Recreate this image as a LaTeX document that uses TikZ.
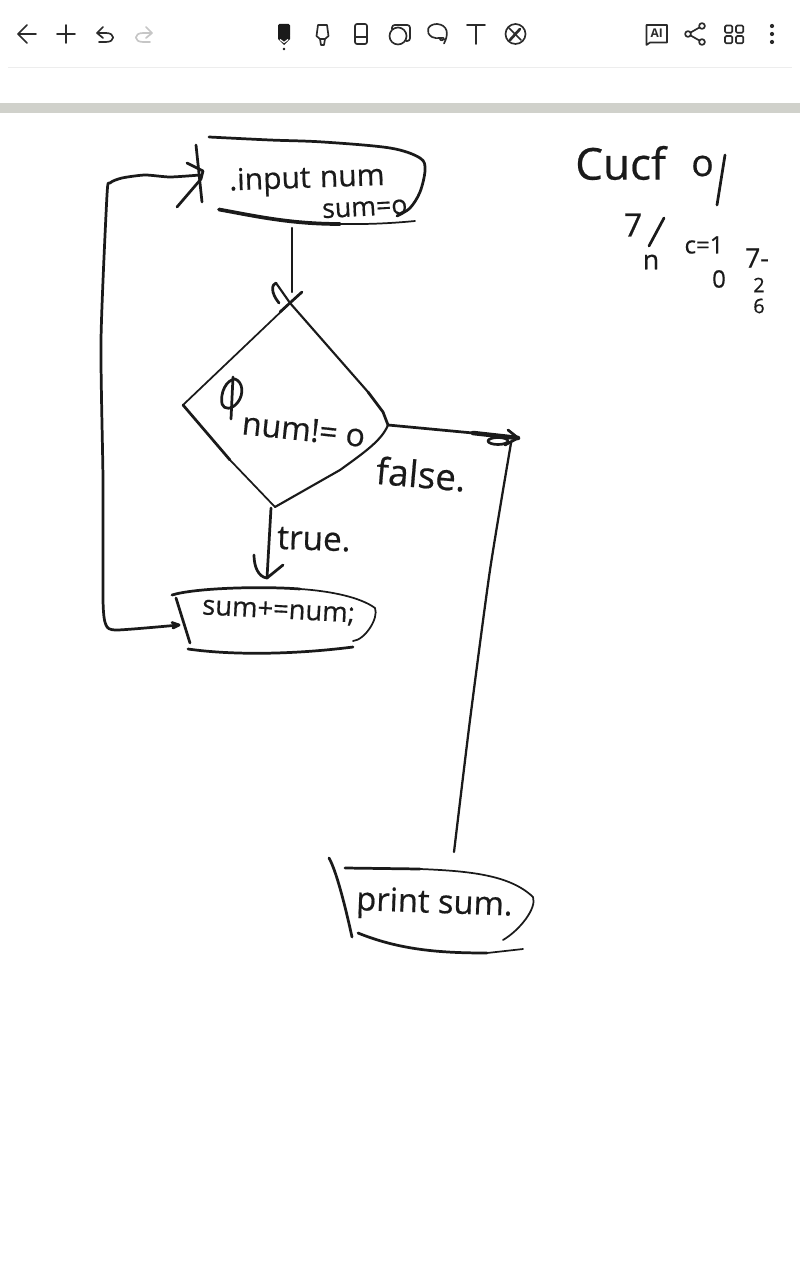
\documentclass[tikz,border=0pt]{standalone}
\usepackage{fontspec}
\setmainfont{Open Sans}
\definecolor{inkc}{HTML}{1A1A1A}
\definecolor{barc}{HTML}{D0D1CB}
\definecolor{sepc}{HTML}{EDEDED}
\definecolor{iconc}{HTML}{2B2B2B}
\definecolor{greyc}{HTML}{C6C6C6}
\tikzset{
  ink/.style={draw=inkc,line width=2.05pt,line cap=round,line join=round},
  inkthin/.style={draw=inkc,line width=1.3pt,line cap=round,line join=round},
  inkfat/.style={draw=inkc,line width=2.8pt,line cap=round,line join=round},
  icon/.style={draw=iconc,line width=1.25pt,line cap=round,line join=round},
  hand/.style={inner sep=0pt,text=inkc,transform shape,font=\fontsize{#1}{#1}\selectfont\addfontfeature{FakeBold=0.5}},
  hand/.default=20
}
\begin{document}
\begin{tikzpicture}[x=0.75pt,y=-0.75pt]
\useasboundingbox[fill=white] (0,0) rectangle (800,1280);
% app chrome
\fill[barc] (0,103) rectangle (800,113);
\draw[sepc,line width=0.8pt] (8,67.5) -- (792,67.5);
% left icons
\draw[icon] (36,34) -- (18,34) (27,25) -- (18,34) -- (27,43);
\draw[icon] (57,34) -- (75,34) (66,25) -- (66,43);
\draw[icon] (103,27) -- (97,33) -- (103,38) (97,33) -- (106,33) .. controls (115.5,33) and (115.5,42) .. (106,42) -- (99,42);
\draw[icon,draw=greyc] (146,27) -- (152,33) -- (146,38) (152,33) -- (143,33) .. controls (133.5,33) and (133.5,42) .. (143,42) -- (150,42);
% pen tools
\fill[inkc,rounded corners=1pt] (278,24) rectangle (290,37) ;
\fill[inkc] (278,36) -- (290,36) -- (290,39) -- (284,45) -- (278,39) -- cycle;
\draw[white,line width=0.9pt] (280,39.5) -- (284,42.5) -- (288,39.5);
\fill[inkc] (284,49) circle[radius=1.4];
\draw[icon] (318,25) -- (327,25) -- (328.5,36) -- (325,39) -- (324,45) -- (321,45) -- (320,39) -- (316.5,36) -- cycle (320,39) -- (325,39);
\draw[icon,rounded corners=1.5pt] (355,24) rectangle (367,44);
\draw[icon] (355,37) -- (367,37);
% shape icon
\draw[icon] (398,36) circle[radius=8.5];
\draw[icon,rounded corners=2pt] (392,29) -- (392,25) -- (410,25) -- (410,41) -- (406,41);
% lasso
\draw[icon] (444,43.5) .. controls (449,34) and (448,25) .. (437,24) .. controls (427,24) and (425,33) .. (432,37) .. controls (437,40) and (445,36) .. (444,39) .. controls (442,42) and (438,39) .. (441,38);
% text tool
\draw[icon] (467,25) -- (485,25) (476,25) -- (476,44);
% no-pen
\draw[icon] (515.5,34) circle[radius=10];
\draw[icon] (509,28) -- (521,40);
\draw[icon,line width=2pt] (510,40) -- (520,29);
% right icons
\draw[icon] (646.5,45) -- (646.5,25) -- (667,25) -- (667,42.5) -- (650,42.5) -- cycle;
\node[name=ailabel,inner sep=0pt,text=iconc,font=\fontsize{9}{9}\selectfont\bfseries] at (656.7,33.7) {AI};
\draw[icon] (702,26) -- (688,34) -- (702,42);
\draw[icon,fill=white] (702,26) circle[radius=2.9] (688,34) circle[radius=2.9] (702,42) circle[radius=2.9];
\foreach \ax/\ay in {725/25.5,736/25.5,725/36,736/36}
  \draw[icon,rounded corners=1pt] (\ax,\ay) rectangle ++(7.3,7.3);
\fill[iconc] (772,26) circle[radius=2.1] (772,34) circle[radius=2.1] (772,42) circle[radius=2.1];

% named connection points
\coordinate (inputIn) at (200,175);
\coordinate (inputOut) at (292,228);
\coordinate (decTop) at (292,292);
\coordinate (decLeft) at (183,405);
\coordinate (decBottom) at (275,507);
\coordinate (decRight) at (388,425);
\coordinate (decApex) at (288,305);
\coordinate (trueEnd) at (267,578);
\coordinate (trueStart) at (271,508);
\coordinate (sumIn) at (179,625);
\coordinate (falseEnd) at (518,438);
\coordinate (printTop) at (454,852);
\coordinate (falseBend) at (511,443);

% input box
\draw[ink] plot[smooth,tension=.55] coordinates {(209,137) (270,140) (323,142) (390,148) (420,158) (425,170) (420,192) (410,208) (397,216)};
\draw[inkfat] (219,209.5) .. controls (255,216) and (290,224) .. (340,224);
\draw[inkthin] (340,224) .. controls (370,224.5) and (395,223) .. (415,221);
\draw[ink] (196,145) -- (202,202);
\node[hand=22.5,name=inputtext,anchor=west,rotate=2] at (229,183) {.input\hspace{7pt}num};
\node[hand=20,name=sumzero,anchor=west,rotate=3] at (322,211) {sum=o};

% loop connector
\draw[ink] plot[smooth,tension=.4] coordinates {(sumIn) (117,630) (106,625) (103,600) (103,480) (101,340) (107,195) (110,183) (122,178) (145,175) (170,177) (inputIn)};
\draw[ink] (187,163) -- (203,171) -- (201,179) -- (177,207);
\draw[ink] (172,622.5) -- (sumIn) -- (173,628);

% connector down
\draw[ink,line width=1.6pt] (inputOut) -- (decTop);
\draw[ink] (302,292) -- (280,312);
\draw[ink] (279,303) .. controls (270,292) and (272,284) .. (276,283);

% decision
\draw[ink,line width=1.6pt] (276,283) -- (290,303) -- (368,392);
\draw[ink] (368,392) -- (383,412) -- (decRight);
\draw[inkthin] (decApex) -- (decLeft);
\draw[ink] (decLeft) -- (230,460);
\draw[inkthin] (230,460) -- (decBottom);
\draw[ink,line width=1.6pt] (decBottom) -- (340,470) .. controls (365,452) and (382,440) .. (decRight);
\draw[ink] (222,404) .. controls (220,393) and (226,380) .. (235,379) .. controls (243,382) and (244,394) .. (238,402) .. controls (232,410) and (224,410) .. (222,404);
\draw[ink] (233,377) -- (231,419);
\node[hand=24,name=cond,anchor=west,rotate=-6] at (242,423) {num!= o};

% false branch
\draw[ink] (decRight) -- (473,433);
\draw[inkfat,line width=3.4pt] (473,433) -- (falseEnd);
\draw[ink] (508,430) -- (falseEnd) -- (505,445);
\draw[ink,line width=2pt] (498,441) ellipse[x radius=10,y radius=3.5];
\node[hand=27.5,name=falselabel,anchor=west,rotate=-5] at (376,470) {false.};
\draw[ink,line width=1.7pt] plot[smooth,tension=.4] coordinates {(falseBend) (490,570) (470,720) (printTop)};

% true branch
\draw[ink] (trueStart) -- (trueEnd);
\draw[ink] (254,555) .. controls (254,566) and (258,577) .. (trueEnd) -- (283,565);
\node[hand=25,name=truelabel,anchor=west,rotate=-2] at (277,538) {true.};

% sum box
\draw[ink] (172,595) .. controls (195,588) and (260,586) .. (300,589);
\draw[inkthin] (300,589) .. controls (330,591) and (360,597) .. (375,608) .. controls (379,618) and (365,640) .. (353,641);
\draw[ink] (188,649) .. controls (230,655) and (290,655) .. (353,647);
\draw[ink] (176,598) -- (190,643);
\node[hand=20.5,name=sumtext,anchor=west,rotate=-3] at (202,608) {sum+=num;};

% print box
\draw[ink] (329,858) .. controls (336,870) and (345,905) .. (352,937);
\draw[ink] (345,868) -- (420,869);
\draw[inkthin] (420,869) .. controls (470,871) and (510,875) .. (533,897) .. controls (537,908) and (520,930) .. (503,940);
\draw[ink] (358,933) .. controls (400,950) and (440,953) .. (487,953);
\draw[inkthin] (487,953) -- (523,949);
\node[hand=24.5,name=printtext,anchor=west,rotate=-2] at (356,902) {print sum.};

% side note
\node[hand=33,name=notea,anchor=west] at (575,163) {Cucf};
\node[hand=28,name=noteb,anchor=west] at (691,166) {o};
\draw[ink] (725,155) -- (717,205);
\node[hand=24,name=notec,anchor=center] at (633,225) {7};
\draw[ink] (664,218) -- (649,246);
\node[hand=20,name=noted,anchor=center] at (651,262) {n};
\node[hand=18,name=notee,anchor=center] at (704,245) {c=1};
\node[hand=18,name=notef,anchor=center] at (719,279) {0};
\node[hand=20,name=noteg,anchor=center] at (757,258) {7-};
\node[hand=15,name=noteh,anchor=center] at (759,285) {2};
\node[hand=15,name=notei,anchor=center] at (759,306) {6};
\end{tikzpicture}
\end{document}
